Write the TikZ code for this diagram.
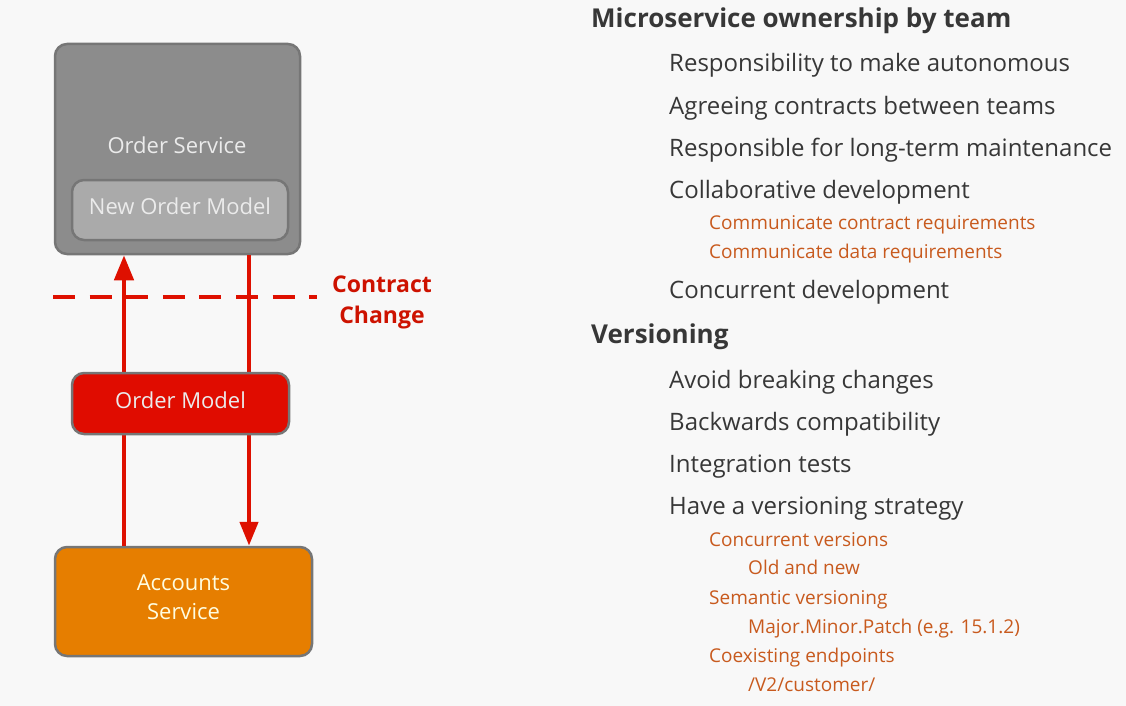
\documentclass[tikz,border=0pt]{standalone}
\usepackage{fontspec}
\setmainfont{Open Sans}
\usetikzlibrary{arrows.meta}
\definecolor{mybg}{RGB}{248,248,248}
\definecolor{mygrey}{RGB}{140,140,140}
\definecolor{mylgrey}{RGB}{170,170,170}
\definecolor{myedge}{RGB}{118,118,118}
\definecolor{myred}{RGB}{224,12,0}
\definecolor{myline}{RGB}{222,16,0}
\definecolor{myorange}{RGB}{230,126,0}
\definecolor{mytext}{RGB}{55,55,55}
\definecolor{mysub}{RGB}{200,90,30}
\definecolor{mycc}{RGB}{205,18,0}

\begin{document}
\begin{tikzpicture}[x=1pt,y=-1pt,
  box/.style={draw=myedge,line width=2.5pt,rounded corners=12pt,inner sep=0pt,
    text=white!92!black,font=\fontsize{22}{29}\selectfont},
  flow/.style={myline,line width=4.5pt},
  head/.style={anchor=base west,inner sep=0pt,text=mytext,font=\fontsize{26}{30}\selectfont\bfseries},
  item/.style={anchor=base west,inner sep=0pt,text=mytext,font=\fontsize{24}{28}\selectfont},
  sub/.style={anchor=base west,inner sep=0pt,text=mysub,font=\fontsize{19}{22}\selectfont}]
\fill[mybg] (0,0) rectangle (1126,706);
% services
\node[box,fill=mygrey,minimum width=245pt,minimum height=210pt] (os) at (177.5,149){};
\node[text=white!92!black,font=\fontsize{22}{26}\selectfont] (ostxt) at (177,145){Order Service};
\node[box,fill=mylgrey,minimum width=216pt,minimum height=60pt,text depth=7pt] (nom) at (180,210){New Order Model};
\node[box,fill=myorange,minimum width=257pt,minimum height=109pt,align=center,text depth=8pt,text=white!88!yellow] (acc) at (183.5,601.5){Accounts\\Service};
% calls
\coordinate (up) at (124,0);
\coordinate (dn) at (249,0);
\draw[flow,-{Triangle[length=25pt,width=19pt]}] (acc.north -| up) -- (os.south -| up);
\draw[flow,-{Triangle[length=24pt,width=18pt]}] (os.south -| dn) -- (acc.north -| dn);
\node[box,fill=myred,minimum width=217pt,minimum height=61pt,text depth=6pt] (om) at (180.5,403.5){Order Model};
% contract
\coordinate (dl) at (53,297);
\node[text=mycc,font=\fontsize{23}{31}\selectfont\bfseries,align=center,inner xsep=15pt] (cc) at (382,302){Contract\\Change};
\draw[myline,line width=4pt,dash pattern=on 22pt off 14.6pt] (dl) -- (dl -| cc.west);
% ownership
\node[head] (h1) at (591,28){Microservice ownership by team};
\node[item] (i1) at (669,72){Responsibility to make autonomous};
\node[item] (i2) at (669,114){Agreeing contracts between teams};
\node[item] (i3) at (669,156){Responsible for long-term maintenance};
\node[item] (i4) at (669,198){Collaborative development};
\node[sub] (s1) at (709,229){Communicate contract requirements};
\node[sub] (s2) at (709,258){Communicate data requirements};
\node[item] (i5) at (669,298){Concurrent development};
% versioning
\node[head] (h2) at (591,343){Versioning};
\node[item] (j1) at (669,388){Avoid breaking changes};
\node[item] (j2) at (669,430){Backwards compatibility};
\node[item] (j3) at (669,472){Integration tests};
\node[item] (j4) at (669,514){Have a versioning strategy};
\node[sub] (t1) at (709,546){Concurrent versions};
\node[sub] (t2) at (748,574.5){Old and new};
\node[sub] (t3) at (709,604){Semantic versioning};
\node[sub] (t4) at (748,633){Major.Minor.Patch (e.g. 15.1.2)};
\node[sub] (t5) at (709,662){Coexisting endpoints};
\node[sub] (t6) at (748,691){/V2/customer/};
\end{tikzpicture}
\end{document}
